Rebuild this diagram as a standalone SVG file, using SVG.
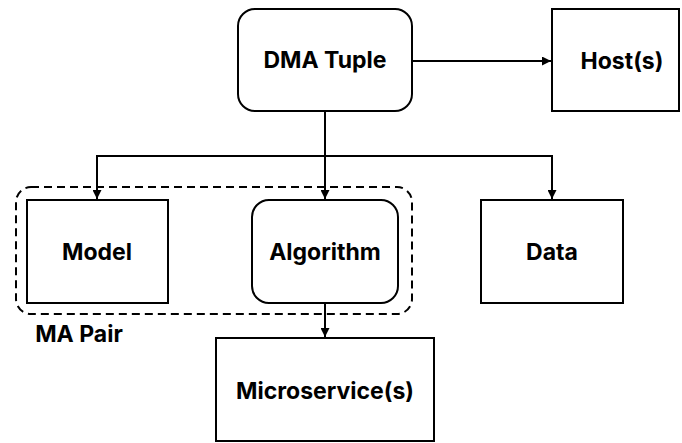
<svg xmlns="http://www.w3.org/2000/svg" width="682" height="443" viewBox="0 0 682 443">
<defs>
<style>
.box{fill:#fff;stroke:#000;stroke-width:2}
.lbl{font-family:Inter,"Liberation Sans",Arial,sans-serif;font-weight:bold;font-size:23px;fill:#000;text-anchor:middle}
.ln{fill:none;stroke:#000;stroke-width:2}
.dash{fill:none;stroke:#000;stroke-width:2;stroke-dasharray:8 5}
</style>
<marker id="ah" viewBox="0 0 10 10" refX="10" refY="5" markerWidth="9" markerHeight="9" markerUnits="userSpaceOnUse" orient="auto">
<path d="M0,0 L10,5 L0,10 z" fill="#000"/>
</marker>
</defs>
<rect x="0" y="0" width="682" height="443" fill="#fff"/>
<g id="connectors">
<line class="ln" x1="412" y1="61" x2="551" y2="61" marker-end="url(#ah)"/>
<polyline class="ln" points="325,111 325,156"/>
<polyline class="ln" points="97,199 97,156 552,156 552,199"/>
<line class="ln" x1="97" y1="190" x2="97" y2="199" marker-end="url(#ah)"/>
<line class="ln" x1="552" y1="190" x2="552" y2="199" marker-end="url(#ah)"/>
<line class="ln" x1="325" y1="156" x2="325" y2="199" marker-end="url(#ah)"/>
<line class="ln" x1="325" y1="303" x2="325" y2="337" marker-end="url(#ah)"/>
</g>
<g id="ma-pair">
<rect class="dash" x="16" y="187" width="396" height="127" rx="15"/>
<text class="lbl" x="79" y="342">MA Pair</text>
</g>
<g id="dma-tuple">
<rect class="box" x="238" y="9" width="174" height="102" rx="17"/>
<text class="lbl" x="325" y="68">DMA Tuple</text>
</g>
<g id="hosts">
<rect class="box" x="552" y="9" width="127" height="102"/>
<text class="lbl" x="622" y="69">Host(s)</text>
</g>
<g id="model">
<rect class="box" x="27" y="200" width="141" height="103"/>
<text class="lbl" x="97" y="260">Model</text>
</g>
<g id="algorithm">
<rect class="box" x="252" y="200" width="146" height="103" rx="17"/>
<text class="lbl" x="325" y="260">Algorithm</text>
</g>
<g id="data">
<rect class="box" x="481" y="200" width="142" height="103"/>
<text class="lbl" x="552" y="260">Data</text>
</g>
<g id="microservices">
<rect class="box" x="216" y="338" width="218" height="103"/>
<text class="lbl" x="325" y="399">Microservice(s)</text>
</g>
</svg>
